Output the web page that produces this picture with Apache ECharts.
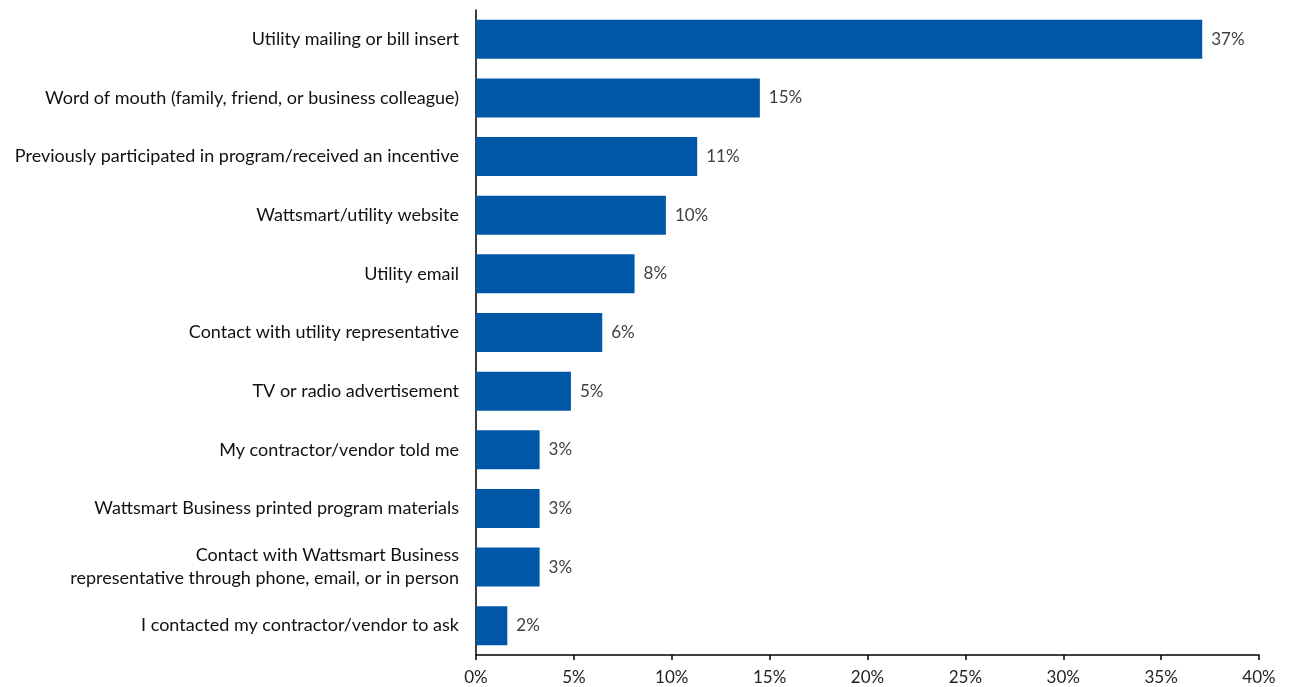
<!DOCTYPE html>
<html>
<head>
<meta charset="utf-8">
<script src="https://cdn.jsdelivr.net/npm/echarts@6/dist/echarts.min.js"></script>
<style>
  html, body { margin: 0; padding: 0; background: #fff; }
  #chart { width: 1289px; height: 687px; }
</style>
</head>
<body>
<div id="chart"></div>
<script>
// Sources through which respondents learned about the program (top to bottom)
const categories = [
  'Utility mailing or bill insert',
  'Word of mouth (family, friend, or business colleague)',
  'Previously participated in program/received an incentive',
  'Wattsmart/utility website',
  'Utility email',
  'Contact with utility representative',
  'TV or radio advertisement',
  'My contractor/vendor told me',
  'Wattsmart Business printed program materials',
  'Contact with Wattsmart Business\nrepresentative through phone, email, or in person',
  'I contacted my contractor/vendor to ask'
];
// Share of respondents, percent
const shares = [37.1, 14.5, 11.3, 9.7, 8.1, 6.45, 4.85, 3.25, 3.25, 3.25, 1.6];
const tickStep = 5;
const axisMax = 40;

const FONT = 'Lato';
const chart = echarts.init(document.getElementById('chart'), null, { renderer: 'canvas' });

chart.setOption({
  animation: false,
  grid: { left: 476, right: 30, top: 10, bottom: 32, containLabel: false },
  xAxis: {
    type: 'value',
    min: 0,
    max: axisMax,
    interval: tickStep,
    axisLine: { show: true, lineStyle: { color: '#000', width: 1.5 } },
    axisTick: { show: true, length: 5, lineStyle: { color: '#000', width: 1.5 } },
    splitLine: { show: false },
    axisLabel: {
      formatter: v => v + '%',
      color: '#222',
      fontFamily: FONT,
      fontSize: 17,
      margin: 14
    }
  },
  yAxis: {
    type: 'category',
    data: categories,
    inverse: true,
    axisLine: { show: true, lineStyle: { color: '#000', width: 1.5 } },
    axisTick: { show: false },
    axisLabel: {
      color: '#111',
      fontFamily: FONT,
      fontSize: 18,
      margin: 17,
      lineHeight: 23,
      align: 'right'
    }
  },
  series: [{
    type: 'bar',
    data: shares,
    barWidth: 39,
    itemStyle: { color: '#0057A8' },
    label: {
      show: true,
      position: 'right',
      distance: 9,
      formatter: p => Math.round(p.value) + '%',
      color: '#404040',
      fontFamily: FONT,
      fontSize: 17
    }
  }]
});
</script>
</body>
</html>
